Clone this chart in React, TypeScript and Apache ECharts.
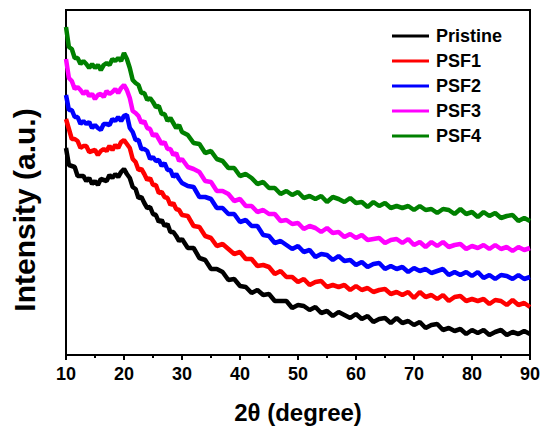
import React, { useEffect, useRef } from "react";
import * as echarts from "echarts";

const twoTheta = [
  10, 10.5, 11, 11.5, 12, 12.5, 13, 13.5, 14, 14.5, 15, 15.5, 16, 16.5, 17, 17.5, 18, 18.5, 19, 19.5,
  20, 20.5, 21, 21.5, 22, 22.5, 23, 23.5, 24, 24.5, 25, 25.5, 26, 26.5, 27, 27.5, 28, 28.5, 29, 29.5, 30,
  31, 32, 33, 34, 35, 36, 37, 38, 39, 40, 41, 42, 43, 44, 45, 46, 47, 48, 49, 50,
  51, 52, 53, 54, 55, 56, 57, 58, 59, 60, 61, 62, 63, 64, 65, 66, 67, 68, 69, 70,
  71, 72, 73, 74, 75, 76, 77, 78, 79, 80, 81, 82, 83, 84, 85, 86, 87, 88, 89, 90,
];

const pristine = [
  207, 190, 189, 188, 179, 179, 179, 174, 177, 171, 174, 170, 176, 175, 174, 180, 177, 181, 178, 183,
  186, 181, 177, 168, 166, 157, 158, 152, 147, 148, 141, 140, 133, 135, 129, 131, 123, 123, 119, 114, 116,
  107, 107, 97, 95, 86, 86, 83, 75, 76, 69, 68, 62, 65, 60, 61, 54, 54, 54, 47, 50,
  49, 45, 48, 42, 44, 39, 43, 40, 37, 41, 36, 39, 33, 36, 37, 32, 37, 32, 34, 30,
  33, 27, 30, 31, 25, 27, 24, 26, 21, 25, 22, 25, 20, 23, 25, 20, 23, 21, 24, 21,
];

const psf1 = [
  236, 226, 216, 216, 214, 207, 209, 209, 203, 204, 205, 200, 204, 206, 204, 209, 205, 210, 207, 213,
  215, 211, 207, 196, 193, 185, 186, 181, 175, 177, 170, 170, 162, 163, 158, 157, 150, 152, 146, 145, 140,
  139, 129, 128, 119, 117, 109, 111, 106, 101, 103, 96, 96, 89, 90, 88, 81, 84, 78, 78, 73,
  76, 70, 73, 74, 68, 70, 68, 70, 65, 69, 65, 67, 63, 65, 66, 61, 63, 60, 63, 57,
  63, 58, 60, 56, 60, 54, 58, 59, 54, 56, 54, 56, 51, 55, 54, 50, 55, 50, 52, 48,
];

const psf2 = [
  260, 245, 245, 238, 238, 231, 234, 231, 233, 227, 230, 227, 225, 231, 231, 230, 236, 234, 238, 234,
  239, 240, 227, 223, 215, 215, 206, 206, 204, 196, 198, 194, 195, 189, 192, 185, 185, 178, 181, 176, 172,
  169, 168, 158, 158, 156, 147, 147, 141, 141, 133, 135, 129, 129, 120, 119, 112, 114, 110, 106, 109,
  103, 105, 98, 101, 100, 95, 99, 94, 95, 90, 93, 88, 91, 92, 86, 89, 86, 88, 83, 87,
  84, 86, 82, 84, 86, 80, 83, 80, 83, 79, 83, 77, 80, 76, 80, 79, 76, 80, 76, 78,
];

const psf3 = [
  296, 277, 274, 266, 268, 265, 261, 264, 259, 261, 256, 260, 261, 258, 264, 261, 263, 266, 262, 267,
  270, 265, 257, 244, 242, 239, 232, 234, 227, 226, 219, 221, 216, 211, 213, 206, 206, 200, 202, 194, 196,
  188, 186, 183, 174, 173, 164, 164, 161, 154, 156, 149, 149, 143, 145, 141, 141, 134, 135, 131, 132,
  126, 129, 127, 123, 127, 122, 123, 118, 121, 117, 120, 115, 116, 117, 112, 115, 116, 112, 116, 110,
  113, 108, 113, 109, 113, 108, 110, 111, 106, 109, 107, 110, 106, 110, 106, 108, 104, 108, 105, 107,
];

const psf4 = [
  328, 308, 306, 297, 297, 291, 294, 291, 287, 291, 287, 290, 285, 290, 292, 290, 296, 294, 297, 294,
  302, 296, 287, 275, 272, 270, 262, 262, 255, 257, 253, 248, 249, 241, 241, 234, 237, 232, 227, 230, 223,
  220, 212, 211, 202, 204, 196, 194, 187, 187, 179, 181, 177, 171, 173, 167, 167, 161, 164, 160, 163,
  157, 159, 156, 159, 153, 158, 156, 153, 157, 152, 153, 148, 153, 149, 152, 147, 149, 147, 149, 145,
  149, 145, 146, 142, 146, 145, 141, 146, 141, 143, 138, 143, 139, 142, 137, 139, 140, 134, 137, 134,
];

const seriesNames = ["Pristine", "PSF1", "PSF2", "PSF3", "PSF4"];
const seriesColors = ["#000000", "#ff0000", "#0000ff", "#ff00ff", "#008000"];
const seriesValues = [pristine, psf1, psf2, psf3, psf4];
const xTicks = [10, 20, 30, 40, 50, 60, 70, 80, 90];

const FONT = "'Liberation Sans', Arial, Helvetica, sans-serif";

export default function App() {
  const ref = useRef<HTMLDivElement>(null);

  useEffect(() => {
    document.body.style.margin = "0";
    if (!ref.current) return;
    const chart = echarts.init(ref.current, undefined, { renderer: "svg" });
    chart.setOption({
      animation: false,
      backgroundColor: "#ffffff",
      grid: {
        left: 66,
        top: 10,
        right: 20,
        bottom: 81,
        show: true,
        borderColor: "#000000",
        borderWidth: 2,
        backgroundColor: "transparent",
      },
      legend: {
        orient: "vertical",
        left: 387,
        top: 22,
        itemWidth: 37,
        itemHeight: 3,
        itemGap: 7,
        icon: "rect",
        selectedMode: false,
        textStyle: {
          fontSize: 18,
          fontWeight: "bold",
          color: "#000000",
          fontFamily: FONT,
          lineHeight: 18,
          padding: [0, 0, 0, 2],
        },
        data: seriesNames,
      },
      xAxis: {
        type: "value",
        min: xTicks[0],
        max: xTicks[xTicks.length - 1],
        interval: 10,
        name: "2θ (degree)",
        nameLocation: "middle",
        nameGap: 45,
        nameTextStyle: {
          fontSize: 24,
          fontWeight: "bold",
          color: "#000000",
          fontFamily: FONT,
        },
        axisLine: { show: true, lineStyle: { color: "#000000", width: 2 } },
        axisTick: { show: true, length: 5, lineStyle: { color: "#000000", width: 2 } },
        minorTick: { show: true, splitNumber: 2, length: 3, lineStyle: { color: "#000000", width: 2 } },
        splitLine: { show: false },
        axisLabel: {
          margin: 10,
          fontSize: 18,
          fontWeight: "bold",
          color: "#000000",
          fontFamily: FONT,
        },
      },
      yAxis: {
        type: "value",
        min: 0,
        max: 345,
        axisLine: { show: true, lineStyle: { color: "#000000", width: 2 } },
        axisTick: { show: false },
        axisLabel: { show: false },
        splitLine: { show: false },
      },
      graphic: [
        {
          type: "text",
          x: 24,
          y: 210,
          rotation: Math.PI / 2,
          style: {
            text: "Intensity (a.u.)",
            fontSize: 30,
            fontWeight: "bold",
            fill: "#000000",
            fontFamily: FONT,
            align: "center",
            verticalAlign: "middle",
          },
        },
      ],
      series: seriesNames.map((name, si) => ({
        name,
        type: "line",
        symbol: "none",
        showSymbol: false,
        color: seriesColors[si],
        lineStyle: { color: seriesColors[si], width: 4.5 },
        data: twoTheta.map((x, i) => [x, seriesValues[si][i]]),
      })),
    });
    return () => chart.dispose();
  }, []);

  return (
    <div
      ref={ref}
      style={{ position: "fixed", left: 0, top: 0, width: 550, height: 436 }}
    />
  );
}
